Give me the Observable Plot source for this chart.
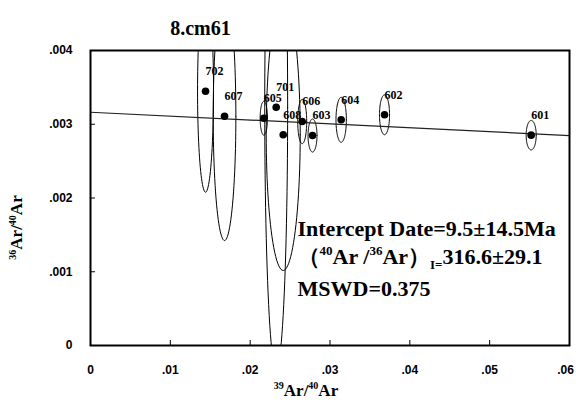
<!DOCTYPE html>
<html><head><meta charset="utf-8">
<script src="https://cdn.jsdelivr.net/npm/d3@7"></script>
<script src="https://cdn.jsdelivr.net/npm/@observablehq/plot@0.6"></script>
<style>html,body{margin:0;padding:0;background:#fff}</style>
</head><body><div id="chart"></div>
<script>
// ---- data ----
const steps = ["702", "607", "605", "701", "608", "606", "603", "604", "602", "601"];
const xVals = [0.01441, 0.01679, 0.02171, 0.02326, 0.02414, 0.02652, 0.02781, 0.0314, 0.03683, 0.0552];
const yVals = [0.003448, 0.003109, 0.003082, 0.003231, 0.002857, 0.003037, 0.002847, 0.00306, 0.003128, 0.002852];
const xErr = [0.0010, 0.00142, 0.00046, 0.001435, 0.00213, 0.00056, 0.00056, 0.00065, 0.00063, 0.00063];
const yErr = [0.00137, 0.001686, 0.00023, 0.00356, 0.00184, 0.0003, 0.000224, 0.000305, 0.00027, 0.0002];
const isoX = [0, 0.06];
const isoY = [0.003163, 0.002847];
const xTicks = [0, 0.01, 0.02, 0.03, 0.04, 0.05, 0.06];
const yTicks = [0, 0.001, 0.002, 0.003, 0.004];
const titleText = "8.cm61";
const xLabelText = "³⁹Ar/⁴⁰Ar";
const yLabelText = "³⁶Ar/⁴⁰Ar";
const annotLines = ["Intercept Date=9.5±14.5Ma", "（⁴⁰Ar /³⁶Ar）I=316.6±29.1", "MSWD=0.375"];

// ---- derived tables ----
const pts = steps.map((s, i) => ({step: s, x: xVals[i], y: yVals[i], sx: xErr[i], sy: yErr[i]}));
const ell = [];
pts.forEach(p => {
  for (let k = 0; k <= 96; k++) {
    const t = k / 96 * 2 * Math.PI;
    ell.push({step: p.step, x: p.x + p.sx * Math.cos(t), y: p.y + p.sy * Math.sin(t)});
  }
});
const iso = isoX.map((x, i) => ({x, y: isoY[i]}));
const fmt = d => d === 0 ? "0" : d3.format(".3~f")(d).replace(/^0/, "");
const serif = "'Liberation Serif', 'Times New Roman', serif";

const chart = Plot.plot({
  width: 576, height: 403,
  marginLeft: 90, marginRight: 7, marginTop: 50, marginBottom: 58,
  style: {fontFamily: "'Liberation Sans', Arial, sans-serif", fontSize: "12px", fontWeight: "bold", background: "#fff", color: "#000"},
  x: {domain: [0, 0.06], ticks: xTicks, tickFormat: fmt, tickSize: 0, tickPadding: 20, label: null},
  y: {domain: [0, 0.004], ticks: yTicks, tickFormat: fmt, tickSize: 0, tickPadding: 18, label: null},
  marks: [
    Plot.line(ell, {x: "x", y: "y", z: "step", stroke: "#000", strokeWidth: 1, clip: true}),
    Plot.line(iso, {x: "x", y: "y", stroke: "#222", strokeWidth: 1.2}),
    Plot.dot(pts, {x: "x", y: "y", r: 3.8, fill: "#000", stroke: "none"}),
    Plot.text(pts, {x: "x", y: "y", text: "step", textAnchor: "start", dx: 0, dy: -20, fontFamily: serif, fontWeight: "bold", fontSize: 12, fill: "#000"}),
    Plot.ruleX(xTicks, {x: d => d, insetTop: 290, stroke: "#000", strokeWidth: 1}),
    Plot.ruleY(yTicks, {y: d => d, insetRight: 474, stroke: "#000", strokeWidth: 1}),
    Plot.frame({stroke: "#000", strokeWidth: 2}),
    Plot.text([annotLines[0]], {text: d => d, frameAnchor: "top-left", dx: 207, dy: 170, textAnchor: "start", fontFamily: serif, fontWeight: "bold", fontSize: 22, fill: "#000"}),
    Plot.text([annotLines[1]], {text: d => d, frameAnchor: "top-left", dx: 207, dy: 198, textAnchor: "start", fontFamily: serif, fontWeight: "bold", fontSize: 22, fill: "#000"}),
    Plot.text([annotLines[2]], {text: d => d, frameAnchor: "top-left", dx: 207, dy: 230, textAnchor: "start", fontFamily: serif, fontWeight: "bold", fontSize: 22, fill: "#000"}),
    Plot.text([titleText], {text: d => d, frameAnchor: "top-left", dx: 110, dy: -29.5, textAnchor: "middle", fontFamily: serif, fontWeight: "bold", fontSize: 20, fill: "#000"}),
    Plot.text([xLabelText], {text: d => d, frameAnchor: "bottom-left", dx: 215.5, dy: 50, textAnchor: "middle", fontFamily: serif, fontWeight: "bold", fontSize: 17, fill: "#000"}),
    Plot.text([yLabelText], {text: d => d, frameAnchor: "left", rotate: -90, textAnchor: "middle", fontFamily: serif, fontWeight: "bold", fontSize: 17, fill: "#000"})
  ]
});
document.getElementById("chart").appendChild(chart);

// rich text: superscripts / subscripts (found by their plain content)
function findText(str) {
  return Array.from(chart.querySelectorAll("text")).find(t => t.textContent === str);
}
function rich(str, parts, base) {
  const node = findText(str);
  if (!node) return null;
  while (node.firstChild) node.removeChild(node.firstChild);
  let shift = 0;
  parts.forEach(p => {
    const ts = document.createElementNS("http://www.w3.org/2000/svg", "tspan");
    ts.textContent = p.t;
    const target = p.sup ? -base * 0.4 : p.sub ? base * 0.22 : 0;
    if (target !== shift) { ts.setAttribute("dy", target - shift); shift = target; }
    if (p.sup || p.sub) ts.setAttribute("font-size", Math.round(base * 0.6));
    node.appendChild(ts);
  });
  return node;
}
rich(xLabelText, [{t: "39", sup: true}, {t: "Ar/"}, {t: "40", sup: true}, {t: "Ar"}], 17);
const yl = rich(yLabelText, [{t: "36", sup: true}, {t: "Ar/"}, {t: "40", sup: true}, {t: "Ar"}], 17);
if (yl) {
  // place the rotated y title exactly where the reference has it
  if (yl.parentNode) yl.parentNode.removeAttribute("transform");
  yl.setAttribute("transform", "translate(17,227.5) rotate(-90)");
}
rich(annotLines[1], [{t: "（"}, {t: "40", sup: true}, {t: "Ar /"}, {t: "36", sup: true}, {t: "Ar"}, {t: "）"}, {t: "I=", sub: true}, {t: "316.6±29.1"}], 22);
// last x tick label sits flush with the right edge, as in the reference
const last = findText(fmt(xTicks[xTicks.length - 1]));
if (last) last.setAttribute("dx", -4);
</script>
</body></html>
